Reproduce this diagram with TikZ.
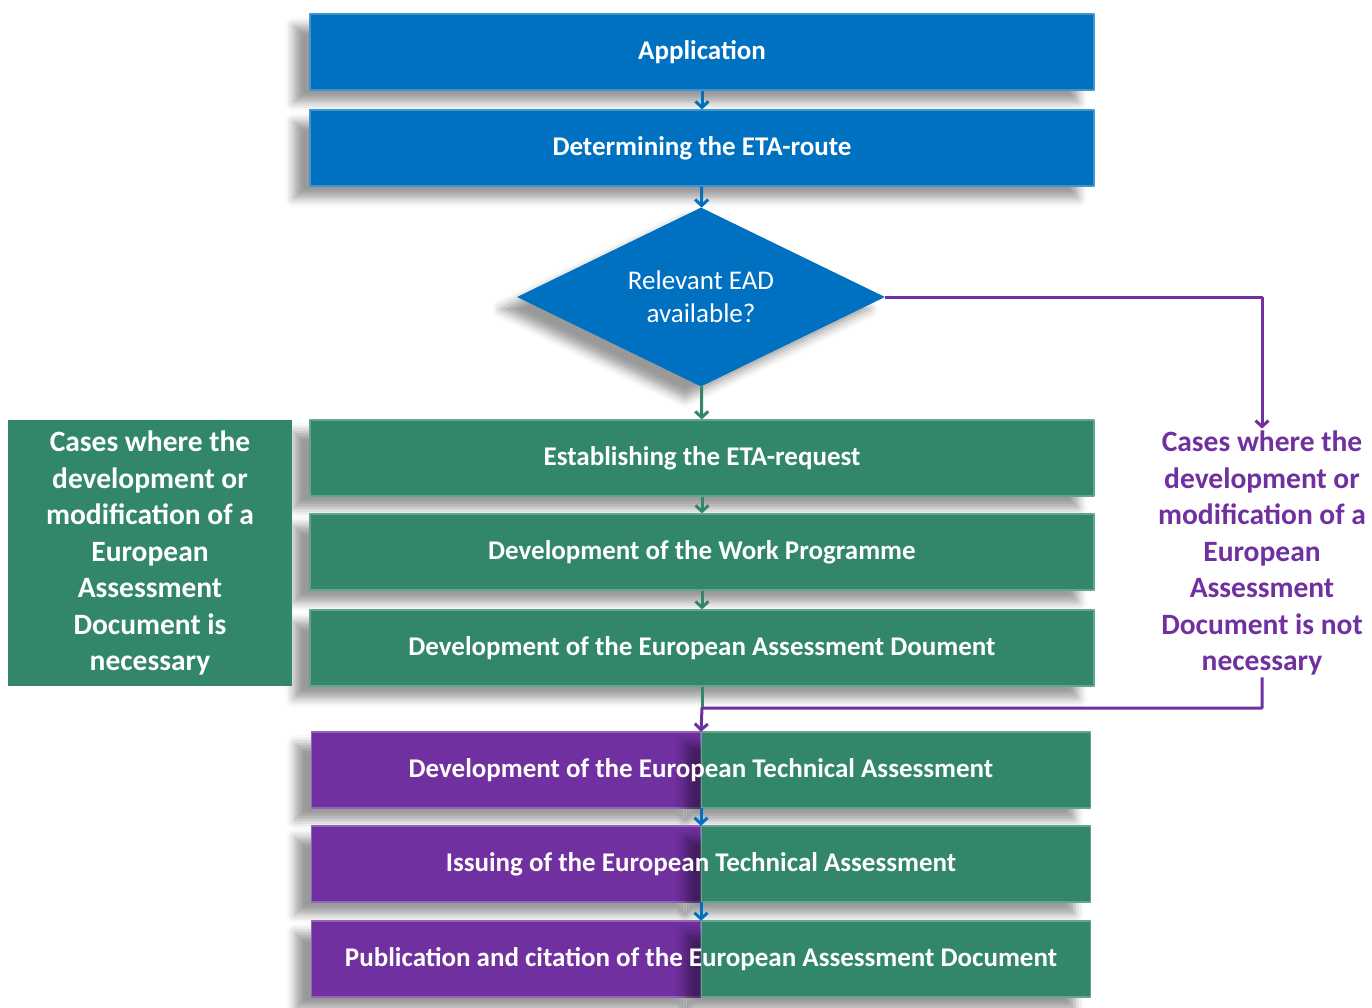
\documentclass[tikz,border=0pt]{standalone}
\usepackage{fontspec}
\setmainfont{Carlito}
\usetikzlibrary{arrows.meta,shapes.geometric,shadows.blur}
\definecolor{boxblue}{HTML}{0070C0}
\definecolor{boxgreen}{HTML}{32876A}
\definecolor{boxpurple}{HTML}{7030A0}
\begin{document}
\begin{tikzpicture}[x=1pt,y=-1pt,>={Straight Barb[length=6pt,width=13pt]},line join=round,
	font=\fontsize{27}{32}\selectfont\bfseries,
	softshadow/.style={blur shadow={shadow xshift=-16pt,shadow yshift=-12pt,shadow blur radius=9pt,shadow opacity=40}},
	stepbox/.style={rectangle,fill=#1,draw=#1!75!white,line width=1.2pt,text=white,minimum width=784pt,minimum height=76pt,inner sep=0pt,softshadow},
	halfbox/.style={rectangle,fill=#1,draw=#1!75!white,line width=1.2pt,minimum width=389pt,minimum height=76pt,inner sep=0pt,softshadow},
	link/.style={->,line width=3pt,draw=#1}]
	\useasboundingbox (0,0) rectangle (1372,1007);
	% upper blue part
	\node[stepbox=boxblue] (app) at (702,52) {Application};
	\node[stepbox=boxblue] (route) at (702,148) {Determining the ETA-route};
	\node[diamond,aspect=2.06,fill=boxblue,text=white,minimum width=368pt,minimum height=179pt,inner sep=0pt,align=center,
		font=\fontsize{27}{33}\selectfont\mdseries,softshadow] (ead) at (701,297) {Relevant EAD\\available?};
	% green part
	\node[stepbox=boxgreen] (req) at (702,458) {Establishing the ETA-request};
	\node[stepbox=boxgreen] (work) at (702,552) {Development of the Work Programme};
	\node[stepbox=boxgreen] (eadoc) at (702,648) {Development of the European Assessment Doument};
	\node[fill=boxgreen,text=white,minimum width=284pt,minimum height=266pt,align=center,
		font=\fontsize{29.5}{36.5}\selectfont\bfseries] (caseyes) at (150,553)
		{Cases where the\\development or\\modification of a\\European\\Assessment\\Document is\\necessary};
	\node[text=boxpurple,align=center,inner sep=2pt,
		font=\fontsize{29.5}{36.5}\selectfont\bfseries] (caseno) at (1262,553)
		{Cases where the\\development or\\modification of a\\European\\Assessment\\Document is not\\necessary};
	% split boxes
	\foreach \y/\n in {770/eta,864/issue,959/pub}{
		\node[halfbox=boxpurple,anchor=east] (\n L) at (701,\y) {};
		\node[halfbox=boxgreen,anchor=west] (\n R) at (701,\y) {};
	}
	\node[text=white,minimum width=778pt,minimum height=76pt,inner sep=0pt] (eta) at (701,770) {Development of the European Technical Assessment};
	\node[text=white,minimum width=778pt,minimum height=76pt,inner sep=0pt] (issue) at (701,864) {Issuing of the European Technical Assessment};
	\node[text=white,minimum width=778pt,minimum height=76pt,inner sep=0pt] (pub) at (701,959) {Publication and citation of the European Assessment Document};
	\coordinate (join) at (702,708);
	% connectors
	\draw[link=boxblue] (app) -- (route);
	\draw[link=boxblue] (route) -- (ead);
	\draw[link=boxgreen] (ead) -- (req);
	\draw[link=boxgreen] (req) -- (work);
	\draw[link=boxgreen] (work) -- (eadoc);
	\draw[line width=3pt,boxgreen] (eadoc.south) -- (join);
	\draw[link=boxpurple] (ead.east) -| (caseno.north);
	\draw[link=boxpurple] (caseno.south) |- (join) -- (eta.north);
	\draw[link=boxblue] (eta) -- (issue);
	\draw[link=boxblue] (issue) -- (pub);
\end{tikzpicture}
\end{document}
